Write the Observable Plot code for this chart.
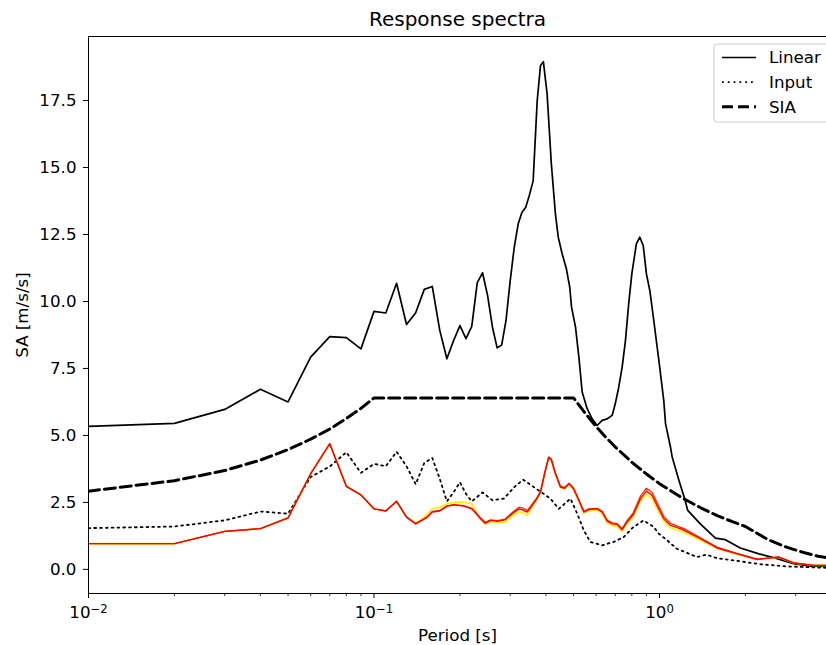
<!DOCTYPE html>
<html><head><meta charset="utf-8">
<script src="https://cdn.jsdelivr.net/npm/d3@7"></script>
<script src="https://cdn.jsdelivr.net/npm/@observablehq/plot@0.6"></script>
<style>
html,body{margin:0;padding:0;background:#fff;overflow:hidden}
</style></head><body><div id="chart"></div>
<script>
// ---- data ----
const linearPeriods = [0.01,0.02,0.03,0.04,0.05,0.06,0.07,0.08,0.09,0.10,0.11,0.12,0.13,0.14,0.15,0.16,0.17,0.18,0.19,0.20,0.21,0.22,0.23,0.24,0.25,0.26,0.27,0.28,0.29,0.30,0.31,0.32,0.33,0.34,0.35,0.361,0.373,0.383,0.392,0.404,0.418,0.432,0.442,0.456,0.472,0.485,0.492,0.508,0.522,0.536,0.558,0.581,0.605,0.63,0.656,0.683,0.70,0.72,0.74,0.76,0.78,0.80,0.83,0.853,0.877,0.90,0.925,0.955,0.995,1.035,1.05,1.093,1.108,1.17,1.22,1.256,1.39,1.57,1.70,1.92,2.23,2.58,2.95,3.38,3.85];
const linearSA = [5.34,5.45,5.97,6.72,6.25,7.92,8.69,8.65,8.23,9.63,9.57,10.68,9.14,9.58,10.45,10.56,8.92,7.86,8.54,9.10,8.61,9.07,10.70,11.07,10.22,9.04,8.27,8.37,9.29,10.78,12.03,12.90,13.33,13.52,13.96,14.50,17.50,18.81,18.95,17.75,15.14,13.27,12.40,11.78,11.22,10.53,9.79,9.04,7.92,6.62,6.00,5.62,5.37,5.56,5.62,5.75,6.18,6.80,7.55,8.54,9.91,11.03,12.15,12.40,12.09,11.03,10.41,9.29,7.80,6.31,5.44,4.56,4.19,3.32,2.70,2.20,1.70,1.17,1.11,0.80,0.58,0.40,0.21,0.12,0.11];

const inputPeriods = [0.01,0.02,0.03,0.04,0.05,0.06,0.07,0.08,0.09,0.10,0.11,0.12,0.13,0.14,0.15,0.16,0.17,0.18,0.19,0.20,0.21,0.22,0.24,0.26,0.285,0.31,0.333,0.363,0.393,0.415,0.444,0.488,0.515,0.543,0.573,0.63,0.69,0.75,0.81,0.88,0.955,0.995,1.06,1.15,1.355,1.46,1.59,1.92,2.26,2.80,3.85];
const inputSA = [1.54,1.60,1.83,2.16,2.08,3.45,3.84,4.37,3.60,3.94,3.85,4.39,3.85,3.18,3.97,4.16,3.38,2.54,2.88,3.25,2.82,2.54,2.87,2.58,2.64,3.07,3.35,3.07,2.82,2.64,2.26,2.64,2.08,1.46,1.02,0.90,1.02,1.21,1.58,1.83,1.58,1.33,1.10,0.77,0.46,0.55,0.42,0.30,0.19,0.11,0.06];

const siaPeriods = [0.01,0.02,0.03,0.04,0.05,0.06,0.07,0.08,0.09,0.10,0.50,0.55,0.60,0.65,0.70,0.80,0.90,1.00,1.20,1.40,1.60,1.80,2.00,2.40,2.80,3.20,3.60,3.85];
const siaSA = [2.92,3.31,3.69,4.08,4.47,4.86,5.24,5.63,6.01,6.40,6.40,5.82,5.33,4.92,4.57,4.00,3.56,3.20,2.67,2.29,2.00,1.78,1.60,1.11,0.82,0.63,0.49,0.44];

const nlPeriods = [0.01,0.02,0.03,0.04,0.05,0.06,0.07,0.08,0.09,0.10,0.11,0.12,0.13,0.14,0.153,0.16,0.17,0.18,0.19,0.206,0.22,0.235,0.245,0.256,0.27,0.288,0.305,0.322,0.33,0.344,0.353,0.368,0.383,0.396,0.409,0.418,0.432,0.45,0.465,0.482,0.50,0.522,0.543,0.565,0.605,0.63,0.656,0.683,0.71,0.74,0.77,0.81,0.858,0.90,0.943,0.98,1.035,1.093,1.18,1.22,1.39,1.59,1.87,2.20,2.40,2.62,2.95,3.47,3.85];
const nlYellowSA = [0.96,0.96,1.42,1.52,1.92,3.57,4.69,3.10,2.78,2.26,2.18,2.54,1.95,1.72,2.02,2.27,2.32,2.45,2.50,2.51,2.45,1.88,1.70,1.78,1.72,1.76,2.00,2.15,2.12,2.02,2.22,2.52,2.86,3.55,4.15,4.07,3.55,3.05,3.00,3.17,2.97,2.53,2.10,2.18,2.20,2.08,1.74,1.64,1.60,1.42,1.70,1.97,2.55,2.80,2.64,2.28,1.80,1.55,1.43,1.38,1.10,0.78,0.57,0.37,0.42,0.45,0.24,0.15,0.15];
const nlRedBSA = [0.96,0.96,1.42,1.52,1.92,3.57,4.69,3.10,2.78,2.26,2.18,2.54,1.95,1.70,1.95,2.16,2.20,2.37,2.42,2.38,2.28,1.95,1.76,1.85,1.82,1.88,2.12,2.32,2.30,2.20,2.34,2.60,2.90,3.60,4.20,4.12,3.60,3.10,3.06,3.22,3.04,2.60,2.17,2.26,2.28,2.17,1.84,1.74,1.71,1.52,1.82,2.12,2.74,3.03,2.87,2.50,1.98,1.72,1.58,1.52,1.18,0.83,0.60,0.38,0.42,0.46,0.24,0.15,0.15];
const nlRedASA = [0.96,0.96,1.42,1.52,1.92,3.57,4.69,3.10,2.78,2.26,2.18,2.54,1.95,1.70,1.93,2.14,2.18,2.35,2.41,2.36,2.26,1.92,1.72,1.83,1.79,1.85,2.08,2.26,2.23,2.14,2.30,2.57,2.88,3.57,4.17,4.09,3.57,3.07,3.03,3.20,3.01,2.57,2.14,2.23,2.26,2.14,1.80,1.70,1.68,1.48,1.77,2.05,2.64,2.92,2.76,2.39,1.89,1.64,1.52,1.46,1.15,0.80,0.58,0.37,0.42,0.46,0.24,0.15,0.15];

const yTicks = [0, 2.5, 5, 7.5, 10, 12.5, 15, 17.5];
const xMajorTicks = [0.01, 0.1, 1];
const xMinorTicks = [0.02,0.03,0.04,0.05,0.06,0.07,0.08,0.09,0.2,0.3,0.4,0.5,0.6,0.7,0.8,0.9,2,3];
const legendLabels = ["Linear", "Input", "SIA"];
const titleText = "Response spectra";
const xLabel = "Period [s]";
const yLabel = "SA [m/s/s]";

const rows = (ps, vs) => ps.map((p, i) => ({period: p, sa: vs[i]}));

const plot = Plot.plot({
  width: 826, height: 645,
  marginLeft: 88, marginRight: 0, marginTop: 36, marginBottom: 52,
  style: {fontFamily: "DejaVu Sans", fontSize: "16.7px", background: "#fff", color: "#000", overflow: "visible"},
  x: {type: "log", domain: [0.01, 3.846]},
  y: {domain: [-0.9, 19.89]},
  marks: [
    Plot.axisX(xMinorTicks, {tickSize: 3, tickFormat: () => "", label: null, strokeWidth: 0.8}),
    Plot.axisX(xMajorTicks, {tickSize: 5, tickPadding: 8, tickFormat: d => "10^" + Math.round(Math.log10(d)), label: null, strokeWidth: 1}),
    Plot.axisY(yTicks, {tickSize: 5, tickPadding: 7, tickFormat: d => d.toFixed(1), label: null, strokeWidth: 1}),
    Plot.line(rows(linearPeriods, linearSA), {x: "period", y: "sa", stroke: "black", strokeWidth: 1.7, clip: true}),
    Plot.line(rows(inputPeriods, inputSA), {x: "period", y: "sa", stroke: "black", strokeWidth: 1.8, strokeDasharray: "1.8,4", clip: true}),
    Plot.line(rows(siaPeriods, siaSA), {x: "period", y: "sa", stroke: "black", strokeWidth: 3, strokeDasharray: "11,5", clip: true}),
    Plot.line(rows(nlPeriods, nlYellowSA), {x: "period", y: "sa", stroke: "#ffee00", strokeWidth: 1.6, clip: true}),
    Plot.line(rows(nlPeriods, nlRedBSA), {x: "period", y: "sa", stroke: "#ff2a00", strokeWidth: 1.3, clip: true}),
    Plot.line(rows(nlPeriods, nlRedASA), {x: "period", y: "sa", stroke: "#ff0000", strokeWidth: 1.4, clip: true}),
    Plot.frame({stroke: "black", strokeWidth: 1}),
    Plot.text([titleText], {frameAnchor: "top", lineAnchor: "middle", textAnchor: "middle", dy: -17, fontSize: 20}),
    Plot.text([xLabel], {frameAnchor: "bottom", lineAnchor: "middle", textAnchor: "middle", dy: 42}),
    Plot.text([yLabel], {frameAnchor: "left", lineAnchor: "middle", textAnchor: "middle", dx: -66, rotate: -90})
  ]
});

document.getElementById("chart").appendChild(plot);

// superscript exponents for the log tick labels
const svg = d3.select(plot);
svg.selectAll('g[aria-label="x-axis tick label"] text').each(function () {
  const t = d3.select(this);
  const s = t.text();
  if (!s.startsWith("10^")) return;
  const exp = s.slice(3).replace("-", "\u2212");
  t.text(null);
  t.append("tspan").text("10");
  t.append("tspan").attr("dy", "-0.45em").attr("font-size", "0.7em").text(exp);
});

// legend (upper right, matplotlib style)
const lg = svg.append("g").attr("font-family", "DejaVu Sans").attr("font-size", "16.7px").attr("text-anchor", "start");
lg.append("rect").attr("x", 714).attr("y", 44).attr("width", 130).attr("height", 78).attr("rx", 3)
  .attr("fill", "white").attr("fill-opacity", 0.8).attr("stroke", "#cccccc").attr("stroke-width", 1);
const styles = [
  {w: 1.7, dash: null},
  {w: 1.8, dash: "1.8,4"},
  {w: 3, dash: "11,5"}
];
legendLabels.forEach((lab, i) => {
  const yy = 57.5 + i * 24.6;
  const ln = lg.append("line").attr("x1", 722).attr("x2", 756).attr("y1", yy).attr("y2", yy)
    .attr("stroke", "black").attr("stroke-width", styles[i].w);
  if (styles[i].dash) ln.attr("stroke-dasharray", styles[i].dash);
  lg.append("text").attr("x", 769).attr("y", yy).attr("dy", "0.35em").attr("text-anchor", "start").attr("fill", "black").text(lab);
});
</script></body></html>
